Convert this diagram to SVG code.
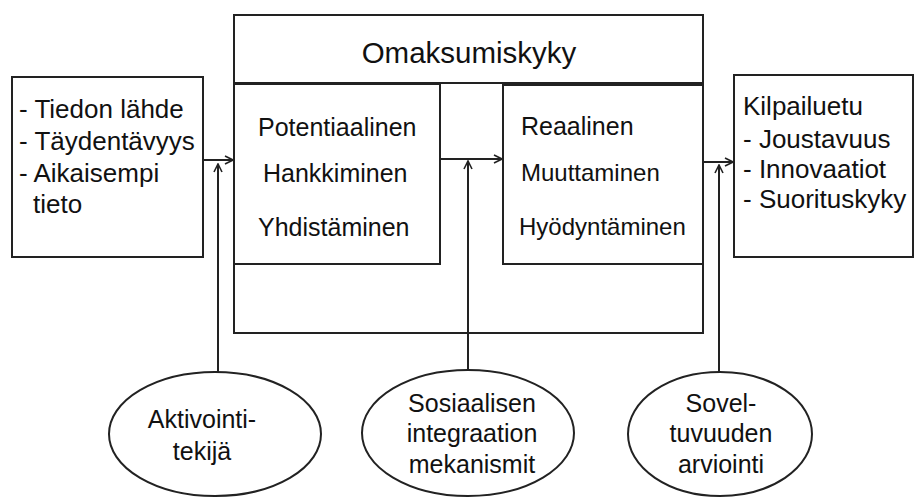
<svg xmlns="http://www.w3.org/2000/svg" width="914" height="498" viewBox="0 0 914 498">
<style>
.box{fill:#fff;stroke:#222;stroke-width:2}
.t{font-family:"Liberation Sans",Arial,sans-serif;font-size:25px;fill:#111}
.s{font-size:26px}
.c{text-anchor:middle}
.con{stroke:#222;stroke-width:2;fill:none}
</style>
<defs>
<marker id="ah" viewBox="0 0 10 10" refX="9" refY="5" markerWidth="10" markerHeight="10" markerUnits="userSpaceOnUse" orient="auto">
<path d="M1,1 L9,5 L1,9" fill="none" stroke="#222" stroke-width="1.6"/>
</marker>
</defs>
<rect width="914" height="498" fill="#fff"/>
<g id="left">
<rect class="box" x="12" y="77" width="191" height="180"/>
<text class="t s" x="19" y="118">- Tiedon lähde</text>
<text class="t s" x="19" y="150">- Täydentävyys</text>
<text class="t s" x="19" y="182">- Aikaisempi</text>
<text class="t s" x="33" y="213">tieto</text>
</g>
<g id="omaksumiskyky">
<rect class="box" x="234" y="15" width="469" height="318"/>
<line class="con" x1="234" y1="83" x2="703" y2="83"/>
<text class="t c" x="469" y="63" style="font-size:29.5px">Omaksumiskyky</text>
</g>
<g id="potentiaalinen">
<rect class="box" x="234" y="84" width="206" height="180"/>
<text class="t" x="258" y="136">Potentiaalinen</text>
<text class="t" x="263" y="182">Hankkiminen</text>
<text class="t" x="258" y="236">Yhdistäminen</text>
</g>
<g id="reaalinen">
<rect class="box" x="503" y="85" width="200" height="179"/>
<text class="t" x="521" y="135">Reaalinen</text>
<text class="t" x="521" y="181" style="font-size:24px">Muuttaminen</text>
<text class="t" x="519" y="235" style="font-size:24px">Hyödyntäminen</text>
</g>
<g id="kilpailuetu">
<rect class="box" x="734" y="75" width="179" height="182"/>
<text class="t s" x="743" y="115">Kilpailuetu</text>
<text class="t s" x="743" y="148">- Joustavuus</text>
<text class="t s" x="743" y="178">- Innovaatiot</text>
<text class="t s" x="743" y="208">- Suorituskyky</text>
</g>
<g id="aktivointi">
<ellipse class="box" cx="215" cy="434" rx="106" ry="62"/>
<text class="t c" x="202" y="428">Aktivointi-</text>
<text class="t c" x="202" y="460">tekijä</text>
</g>
<g id="sosiaalisen">
<ellipse class="box" cx="468" cy="433" rx="106" ry="63"/>
<text class="t c" x="472" y="412">Sosiaalisen</text>
<text class="t c" x="472" y="442">integraation</text>
<text class="t c" x="472" y="473">mekanismit</text>
</g>
<g id="soveltuvuuden">
<ellipse class="box" cx="720" cy="434" rx="92" ry="62"/>
<text class="t c" x="721" y="412">Sovel-</text>
<text class="t c" x="721" y="442">tuvuuden</text>
<text class="t c" x="721" y="473">arviointi</text>
</g>
<g id="connectors">
<line class="con" x1="203" y1="160" x2="233" y2="160" marker-end="url(#ah)"/>
<line class="con" x1="440" y1="159" x2="502" y2="159" marker-end="url(#ah)"/>
<line class="con" x1="703" y1="162" x2="733" y2="162" marker-end="url(#ah)"/>
<line class="con" x1="218" y1="372" x2="218" y2="164" marker-end="url(#ah)"/>
<line class="con" x1="468" y1="370" x2="468" y2="161" marker-end="url(#ah)"/>
<line class="con" x1="719" y1="372" x2="719" y2="165" marker-end="url(#ah)"/>
</g>
</svg>
